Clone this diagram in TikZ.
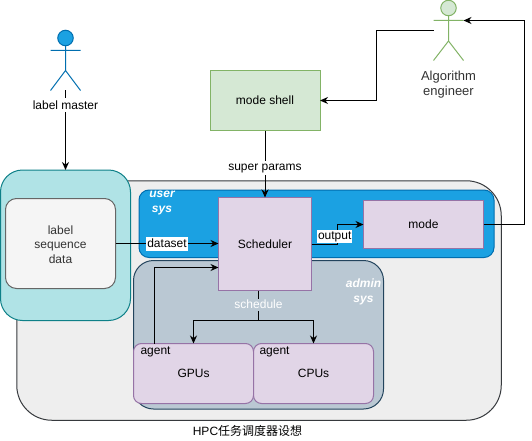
\documentclass[tikz,border=0pt]{standalone}
\usepackage{fontspec}
\setmainfont{Liberation Sans}
\newfontfamily\cjk{Noto Sans CJK SC}
\usetikzlibrary{arrows.meta,positioning}
\definecolor{greyfill}{HTML}{EEEEEE}
\definecolor{greyline}{HTML}{36393D}
\definecolor{tealfill}{HTML}{B0E3E6}
\definecolor{tealline}{HTML}{0E8088}
\definecolor{datafill}{HTML}{F5F5F5}
\definecolor{dataline}{HTML}{666666}
\definecolor{bluefill}{HTML}{1BA1E2}
\definecolor{blueline}{HTML}{006EAF}
\definecolor{adminfill}{HTML}{BAC8D3}
\definecolor{adminline}{HTML}{23445D}
\definecolor{purplefill}{HTML}{E1D5E7}
\definecolor{purpleline}{HTML}{9673A6}
\definecolor{greenfill}{HTML}{D5E8D4}
\definecolor{greenline}{HTML}{82B366}
\definecolor{softtext}{HTML}{333333}
\tikzset{
  region/.style={draw,rectangle,inner sep=0pt,outer sep=0pt,align=center},
  purplebox/.style={region,fill=purplefill,draw=purpleline},
  greenbox/.style={region,fill=greenfill,draw=greenline},
  edgelabel/.style={fill=white,inner xsep=1pt,inner ysep=0pt,minimum height=14pt},
  syslabel/.style={text=white,font=\fontsize{12}{14.4}\selectfont\bfseries\itshape,align=center,inner sep=0pt},
  plainlabel/.style={inner sep=0pt,align=center},
}
\begin{document}
\begin{tikzpicture}[x=1pt,y=-1pt,line width=1pt,font=\fontsize{12}{14.4}\selectfont,>={Stealth[length=8pt,width=7pt]}]
  \useasboundingbox (0,0) rectangle (532,441);
  \node[region,fill=greyfill,draw=greyline,rounded corners=35pt,minimum width=484.5pt,minimum height=239.5pt] (hpc) at (259,300.5) {};
  \node[region,fill=tealfill,draw=tealline,rounded corners=22pt,minimum width=130pt,minimum height=150.5pt] (label) at (65.5,245.25) {};
  \node[region,fill=datafill,draw=dataline,rounded corners=11pt,minimum width=110pt,minimum height=90pt] (data) at (60.5,243.5) {};
  \node[plainlabel,text=softtext] (datatxt) at (60.5,244.5) {label\\sequence\\data};
  \node[region,fill=bluefill,draw=blueline,rounded corners=10pt,minimum width=355pt,minimum height=67.5pt] (user) at (316.5,223.75) {};
  \node[region,fill=adminfill,draw=adminline,rounded corners=20pt,minimum width=250pt,minimum height=148.5pt] (admin) at (258.5,334.75) {};
  \node[syslabel] (usertxt) at (162,203) {user\\sys};
  \node[syslabel] (admintxt) at (363.5,292) {admin\\sys};
  \node[purplebox,minimum width=93pt,minimum height=93pt] (sched) at (265,244) {Scheduler};
  \node[purplebox,minimum width=120pt,minimum height=48pt] (mode) at (423.5,224.5) {mode};
  \node[purplebox,rounded corners=8pt,minimum width=120pt,minimum height=60pt] (gpus) at (193.5,373.5) {GPUs};
  \node[purplebox,rounded corners=8pt,minimum width=120pt,minimum height=60pt] (cpus) at (313.5,373.5) {CPUs};
  \node[plainlabel,right] (gpuagent) at (140,351.5) {agent};
  \node[plainlabel,right] (cpuagent) at (259,351.5) {agent};
  \node[greenbox,minimum width=110pt,minimum height=60pt] (shell) at (265,100.5) {mode shell};
  \node[plainlabel] (caption) at (247.5,430.5) {HPC{\cjk 任务调度器设想}};

  \node[circle,draw=blueline,fill=bluefill,inner sep=0pt,outer sep=0pt,minimum size=15.5pt] (masterhead) at (65.5,38) {};
  \coordinate (masterfoot) at (65.5,90.5);
  \draw[blueline] (masterhead.south) -- (65.5,70.5) (50.5,50.5) -- (80.5,50.5) (50.5,90.5) -- (65.5,70.5) -- (80.5,90.5);
  \node[circle,draw=greenline,fill=greenfill,inner sep=0pt,outer sep=0pt,minimum size=15.5pt] (enghead) at (448.5,8) {};
  \coordinate (engleft) at (433.5,30.5);
  \coordinate (engright) at (463.5,20.5);
  \draw[greenline] (enghead.south) -- (448.5,41) (433.5,20.5) -- (463.5,20.5) (433.5,60.5) -- (448.5,41) -- (463.5,60.5);
  \node[plainlabel,text=softtext,font=\fontsize{13}{15}\selectfont] (engtxt) at (448.5,84.5) {Algorithm\\engineer};

  \draw[->] (masterfoot) -- node[edgelabel,pos=0.18] (mastertxt) {label master} (label.north);
  \coordinate (shellbend) at (376.5,100.5);
  \draw[->] (engleft) -| (shellbend) -- (shell.east);
  \draw[->] (shell.south) -- node[edgelabel,pos=0.56] (paramstxt) {super params} (sched.north);
  \draw[->] (data.east) -- node[edgelabel] (datasettxt) {dataset} (data.east -| sched.west);
  \coordinate (schedright) at (311.5,244.5);
  \coordinate (modebend) at (337.5,224.5);
  \draw[->] (schedright) -| (modebend) -- (mode.west);
  \node[edgelabel,minimum height=13pt] (outputtxt) at (334.7,236.5) {output};
  \coordinate (rightbend) at (524,20.5);
  \draw[->] (mode.east) -| (rightbend) -- (engright);
  \coordinate (schedout) at (258.5,290.5);
  \coordinate (split) at (258.5,320.5);
  \draw[->] (schedout) -- (split) -| (gpus.north);
  \draw[->] (split) -| (cpus.north);
  \node[edgelabel,fill=adminfill,text=white,minimum height=12pt] (scheduletxt) at (258.5,304.5) {schedule};
  \coordinate (gpuout) at (154.5,343.5);
  \coordinate (schedin) at (218.5,267.5);
  \draw[->] (gpuout) |- (schedin);
\end{tikzpicture}
\end{document}
